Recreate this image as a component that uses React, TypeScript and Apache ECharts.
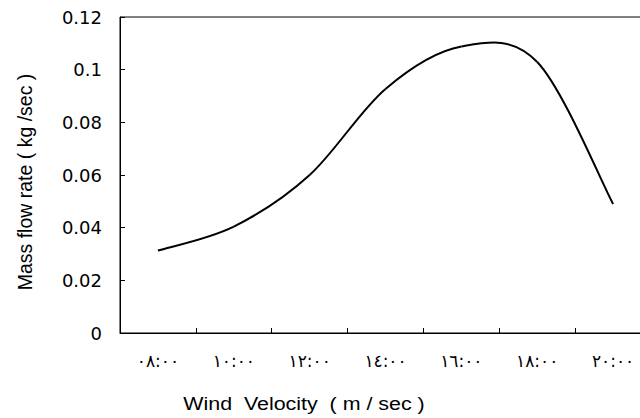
import React, { useEffect, useRef } from "react";
import * as echarts from "echarts";

const categories = ["٠٨:٠٠", "١٠:٠٠", "١٢:٠٠", "١٤:٠٠", "١٦:٠٠", "١٨:٠٠", "٢٠:٠٠"];
const massFlow = [0.0313, 0.0404, 0.06, 0.0927, 0.1088, 0.1029, 0.049];
const yMin = 0;
const yMax = 0.12;
const yStep = 0.02;
const xTitle = "Wind  Velocity  ( m / sec )";
const yTitle = "Mass flow rate ( kg /sec )";

export default function App() {
  const ref = useRef<HTMLDivElement>(null);
  useEffect(() => {
    if (!ref.current) return;
    const chart = echarts.init(ref.current, undefined, { renderer: "svg" });
    const n = massFlow.length;
    chart.setOption({
      animation: false,
      backgroundColor: "#ffffff",
      grid: {
        left: 120,
        top: 17,
        width: 531,
        height: 316,
        outerBoundsMode: "none",
        containLabel: false,
        show: true,
        borderColor: "#000",
        borderWidth: 1,
        backgroundColor: "transparent",
      },
      xAxis: {
        type: "category",
        data: categories,
        boundaryGap: true,
        axisLine: { show: true, lineStyle: { color: "#000", width: 1 } },
        axisTick: { show: true, inside: true, length: 5, lineStyle: { color: "#000" } },
        axisLabel: {
          color: "#000",
          fontFamily: "DejaVu Sans",
          fontSize: 17,
          margin: 19,
          interval: 0,
        },
        splitLine: { show: false },
      },
      yAxis: {
        type: "value",
        min: yMin,
        max: yMax,
        interval: yStep,
        axisLine: { show: true, lineStyle: { color: "#000", width: 1 } },
        axisTick: { show: true, inside: true, length: 5, lineStyle: { color: "#000" } },
        axisLabel: {
          color: "#000",
          fontFamily: "DejaVu Sans",
          fontSize: 18,
          margin: 18,
          formatter: (v: number) => String(+v.toFixed(2)),
        },
        splitLine: { show: false },
      },
      graphic: [
        {
          type: "text",
          x: 304,
          y: 404,
          scaleX: 1.19,
          style: {
            text: xTitle,
            fill: "#000",
            font: '18px "Liberation Sans"',
            textAlign: "center",
            textVerticalAlign: "middle",
          },
        },
        {
          type: "text",
          x: 25,
          y: 182,
          rotation: Math.PI / 2,
          style: {
            text: yTitle,
            fill: "#000",
            font: '19.5px "Liberation Sans"',
            textAlign: "center",
            textVerticalAlign: "middle",
          },
        },
      ],
      series: [
        {
          type: "custom",
          data: massFlow.map((v, i) => [i, v]),
          encode: { x: 0, y: 1 },
          renderItem: (params: any, api: any) => {
            const i = params.dataIndex;
            if (i >= n - 1) return null;
            const pt = (k: number) => {
              const kk = Math.max(0, Math.min(n - 1, k));
              return api.coord([kk, massFlow[kk]]);
            };
            const p0 = pt(i - 1);
            const p1 = pt(i);
            const p2 = pt(i + 1);
            const p3 = pt(i + 2);
            return {
              type: "bezierCurve",
              shape: {
                x1: p1[0],
                y1: p1[1],
                cpx1: p1[0] + (p2[0] - p0[0]) / 6,
                cpy1: p1[1] + (p2[1] - p0[1]) / 6,
                cpx2: p2[0] - (p3[0] - p1[0]) / 6,
                cpy2: p2[1] - (p3[1] - p1[1]) / 6,
                x2: p2[0],
                y2: p2[1],
              },
              style: { stroke: "#000", lineWidth: 2, fill: null },
            };
          },
        },
      ],
    });
    return () => chart.dispose();
  }, []);
  return (
    <div
      ref={ref}
      style={{ position: "fixed", left: 0, top: 0, width: 640, height: 418 }}
    />
  );
}
